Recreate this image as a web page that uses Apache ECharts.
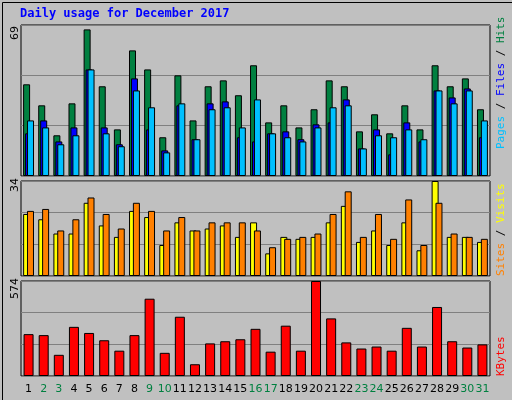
<!DOCTYPE html>
<html>
<head>
<meta charset="utf-8">
<script src="https://cdn.jsdelivr.net/npm/echarts@6/dist/echarts.min.js"></script>
<style>
html,body{margin:0;padding:0;background:#c0c0c0;}
#chart{width:512px;height:400px;}
</style>
</head>
<body>
<div id="chart"></div>
<script>
var days = ['1','2','3','4','5','6','7','8','9','10','11','12','13','14','15','16','17','18','19','20','21','22','23','24','25','26','27','28','29','30','31'];
var weekend = ['2','3','9','10','16','17','23','24','30','31'];
var hits = [41.9,32.3,18.6,33.2,67,41,21.3,57.4,48.7,17.7,46,25.4,41,43.7,36.9,50.6,24.5,32.3,22.2,30.5,43.7,41,20.4,28.2,19.5,32.3,21.3,50.6,41,44.6,30.5];
var files = [19.5,25.4,15.8,22.2,48.7,22.2,14.5,44.6,21.3,11.7,32.3,16.8,33.2,34.1,17.7,15.8,19.5,20.4,16.8,23.6,24.5,35,12.6,21.3,9.9,24.5,15.8,39.1,35.9,40,17.7];
var pages = [25.4,22.2,14.5,18.6,48.7,19.5,13.6,39.1,31.4,10.8,33.2,16.8,30.5,31.4,22.2,35,19.5,17.7,15.8,22.2,31.4,32.3,12.6,18.6,17.7,21.3,16.8,39.1,33.2,39.1,25.4];
var sites = [22.2,20.3,15.2,15.2,26.2,18.1,14,23.3,21.1,11.1,19.2,16.3,17,18.1,14,19.2,8.1,14,13.3,14,19.2,25.1,12.2,16.3,11.1,19.2,9.2,34,14,14,12.2];
var visits = [23.3,24,16.3,20.3,28.1,22.2,17,26.2,23.3,16.3,21.1,16.3,19.2,19.2,19.2,16.3,10.3,13.3,14,15.2,22.2,30.3,14,22.2,13.3,27.4,11.1,26.2,15.2,14,13.3];
var kbytes = [253,247,128,297,260,216,153,247,467,140,358,71,197,210,222,285,147,304,153,574,348,203,166,178,153,291,178,417,210,172,191];
var maxTop = 69, maxMid = 34, maxBot = 574;

var chart = echarts.init(document.getElementById('chart'));
var bs = {borderColor:'#000', borderWidth:1};

function yAxis(idx, max){
    return {
        gridIndex: idx, type:'value', min:0, max:max, interval:max/3,
        axisLabel:{show:false}, axisLine:{show:false}, axisTick:{show:false},
        splitLine:{lineStyle:{color:'#808080', width:1}}
    };
}
function xAxis(idx, labels){
    return {
        gridIndex: idx, type:'category', data:days,
        axisLine:{show:false}, axisTick:{show:false},
        axisLabel:{
            show:labels, margin:8, fontSize:11, fontFamily:'DejaVu Sans',
            interval:0,
            color:function(v){ return weekend.indexOf(v) >= 0 ? '#008040' : '#000'; }
        }
    };
}
function sideText(y, parts){
    return {
        type:'text', left:496, top:y, rotation:Math.PI/2,
        style:{rich:{}, text:'', fontFamily:'DejaVu Sans Mono', fontSize:11}
    };
}

var option = {
    backgroundColor:'#c0c0c0',
    animation:false,
    grid:[
        {left:21, right:22, top:25, height:151, show:true, borderColor:'#000', backgroundColor:'#c0c0c0'},
        {left:21, right:22, top:181, height:95, show:true, borderColor:'#000', backgroundColor:'#c0c0c0'},
        {left:21, right:22, top:281, height:95, show:true, borderColor:'#000', backgroundColor:'#c0c0c0'}
    ],
    xAxis:[xAxis(0,false), xAxis(1,false), xAxis(2,true)],
    yAxis:[yAxis(0,maxTop), yAxis(1,maxMid), yAxis(2,maxBot)],
    graphic:[
        {type:'rect', left:0, top:0, shape:{width:511, height:399}, style:{fill:'none', stroke:'#000', lineWidth:1}},
        {type:'text', left:20, top:8, style:{text:'Daily usage for December 2017', fill:'#0000ff', font:'bold 12px "DejaVu Sans Mono"'}},
        {type:'text', x:10, y:40, rotation:Math.PI/2, style:{text:String(maxTop), fill:'#000', font:'11px "DejaVu Sans"'}},
        {type:'text', x:10, y:192, rotation:Math.PI/2, style:{text:String(maxMid), fill:'#000', font:'11px "DejaVu Sans"'}},
        {type:'text', x:10, y:299, rotation:Math.PI/2, style:{text:String(maxBot), fill:'#000', font:'11px "DejaVu Sans"'}},
        {type:'text', x:496, y:149, rotation:Math.PI/2, style:{
            text:'{p|Pages} {s|/} {f|Files} {s|/} {h|Hits}', font:'11px "DejaVu Sans Mono"',
            rich:{p:{fill:'#00c0ff'}, f:{fill:'#0000ff'}, h:{fill:'#008040'}, s:{fill:'#000'}}}},
        {type:'text', x:496, y:276, rotation:Math.PI/2, style:{
            text:'{a|Sites} {s|/} {b|Visits}', font:'11px "DejaVu Sans Mono"',
            rich:{a:{fill:'#ff8000'}, b:{fill:'#ffff00'}, s:{fill:'#000'}}}},
        {type:'text', x:496, y:376, rotation:Math.PI/2, style:{text:'KBytes', fill:'#ff0000', font:'11px "DejaVu Sans Mono"'}}
    ],
    series:[
        {name:'Hits', type:'bar', xAxisIndex:0, yAxisIndex:0, data:hits, barWidth:7, barGap:'-72%', itemStyle:Object.assign({color:'#008040'}, bs)},
        {name:'Files', type:'bar', xAxisIndex:0, yAxisIndex:0, data:files, barWidth:7, barGap:'-72%', itemStyle:Object.assign({color:'#0000ff'}, bs)},
        {name:'Pages', type:'bar', xAxisIndex:0, yAxisIndex:0, data:pages, barWidth:7, barGap:'-72%', itemStyle:Object.assign({color:'#00c0ff'}, bs)},
        {name:'Sites', type:'bar', xAxisIndex:1, yAxisIndex:1, data:sites, barWidth:7, barGap:'-45%', itemStyle:Object.assign({color:'#ffff00'}, bs)},
        {name:'Visits', type:'bar', xAxisIndex:1, yAxisIndex:1, data:visits, barWidth:7, barGap:'-45%', itemStyle:Object.assign({color:'#ff8000'}, bs)},
        {name:'KBytes', type:'bar', xAxisIndex:2, yAxisIndex:2, data:kbytes, barWidth:10, itemStyle:Object.assign({color:'#ff0000'}, bs)}
    ]
};
chart.setOption(option);
</script>
</body>
</html>
